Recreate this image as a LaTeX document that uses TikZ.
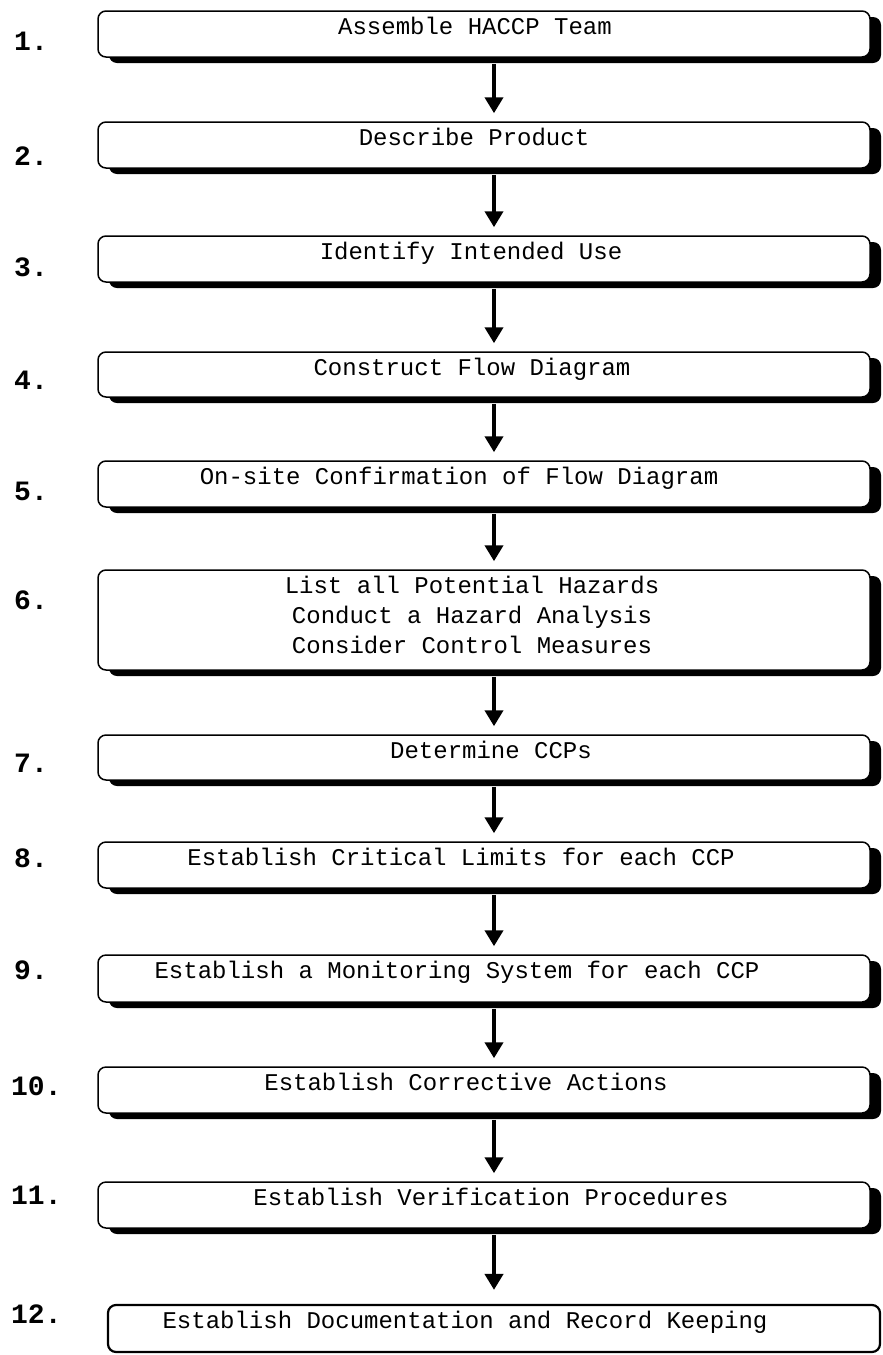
\documentclass[tikz,border=0pt]{standalone}
\usepackage{fontspec}
\setmonofont{Liberation Mono}
\usetikzlibrary{arrows.meta,shadows}
\begin{document}
\begin{tikzpicture}[x=1pt,y=-1pt,
  stepbox/.style={draw=black, line width=1.5pt, rounded corners=8pt, fill=white,
    minimum width=772pt, inner sep=0pt,
    drop shadow={shadow xshift=11pt, shadow yshift=-6pt, fill=black, opacity=1}},
  lastbox/.style={draw=black, line width=2.2pt, rounded corners=8pt, fill=white,
    minimum width=772pt, inner sep=0pt},
  boxtext/.style={font=\ttfamily\fontsize{24}{30}\selectfont, align=center, inner sep=0pt, anchor=base},
  numlabel/.style={font=\ttfamily\bfseries\fontsize{28}{30}\selectfont, anchor=base west, inner sep=0pt},
  flow/.style={-{Triangle[width=18pt,length=16pt]}, line width=4.5pt}
]
\useasboundingbox (0,0) rectangle (883,1355);
\coordinate (ax) at (494,0);

% boxes
\node[stepbox, minimum height=46pt] (b1) at (484,34) {};
\node[stepbox, minimum height=46pt] (b2) at (484,145) {};
\node[stepbox, minimum height=46pt] (b3) at (484,259) {};
\node[stepbox, minimum height=45pt] (b4) at (484,374.5) {};
\node[stepbox, minimum height=46pt] (b5) at (484,484) {};
\node[stepbox, minimum height=100pt] (b6) at (484,620) {};
\node[stepbox, minimum height=45pt] (b7) at (484,757.5) {};
\node[stepbox, minimum height=46pt] (b8) at (484,865) {};
\node[stepbox, minimum height=47pt] (b9) at (484,978.5) {};
\node[stepbox, minimum height=46pt] (b10) at (484,1090) {};
\node[stepbox, minimum height=46pt] (b11) at (484,1205) {};
\node[lastbox, minimum height=47pt] (b12) at (494,1328.5) {};

% texts
\node[boxtext] (t1) at (475,34) {Assemble HACCP Team};
\node[boxtext] (t2) at (474,145) {Describe Product};
\node[boxtext] (t3) at (471,259) {Identify Intended Use};
\node[boxtext] (t4) at (472,375) {Construct Flow Diagram};
\node[boxtext] (t5) at (459,484) {On-site Confirmation of Flow Diagram};
\node[boxtext] (t6) at (472,653) {List all Potential Hazards\\Conduct a Hazard Analysis\\Consider Control Measures};
\node[boxtext] (t7) at (491,758) {Determine CCPs};
\node[boxtext] (t8) at (461,865) {Establish Critical Limits for each CCP};
\node[boxtext] (t9) at (457,978) {Establish a Monitoring System for each CCP};
\node[boxtext] (t10) at (466,1090) {Establish Corrective Actions};
\node[boxtext] (t11) at (491,1205) {Establish Verification Procedures};
\node[boxtext] (t12) at (465,1328) {Establish Documentation and Record Keeping};

% number labels
\node[numlabel] (n1) at (14,50) {1.};
\node[numlabel] (n2) at (14,165) {2.};
\node[numlabel] (n3) at (14,276) {3.};
\node[numlabel] (n4) at (14,389) {4.};
\node[numlabel] (n5) at (14,500) {5.};
\node[numlabel] (n6) at (14,609) {6.};
\node[numlabel] (n7) at (14,772) {7.};
\node[numlabel] (n8) at (14,867) {8.};
\node[numlabel] (n9) at (14,979) {9.};
\node[numlabel] (n10) at (11,1095) {10.};
\node[numlabel] (n11) at (11,1204) {11.};
\node[numlabel] (n12) at (11,1323) {12.};

% arrows
\draw[flow] ([yshift=-6pt]b1.south -| ax) -- ([yshift=8pt]b2.north -| ax);
\draw[flow] ([yshift=-6pt]b2.south -| ax) -- ([yshift=8pt]b3.north -| ax);
\draw[flow] ([yshift=-6pt]b3.south -| ax) -- ([yshift=8pt]b4.north -| ax);
\draw[flow] ([yshift=-6pt]b4.south -| ax) -- ([yshift=8pt]b5.north -| ax);
\draw[flow] ([yshift=-6pt]b5.south -| ax) -- ([yshift=8pt]b6.north -| ax);
\draw[flow] ([yshift=-6pt]b6.south -| ax) -- ([yshift=8pt]b7.north -| ax);
\draw[flow] ([yshift=-6pt]b7.south -| ax) -- ([yshift=8pt]b8.north -| ax);
\draw[flow] ([yshift=-6pt]b8.south -| ax) -- ([yshift=8pt]b9.north -| ax);
\draw[flow] ([yshift=-6pt]b9.south -| ax) -- ([yshift=8pt]b10.north -| ax);
\draw[flow] ([yshift=-6pt]b10.south -| ax) -- ([yshift=8pt]b11.north -| ax);
\draw[flow] ([yshift=-6pt]b11.south -| ax) -- ([yshift=14pt]b12.north -| ax);
\end{tikzpicture}
\end{document}
